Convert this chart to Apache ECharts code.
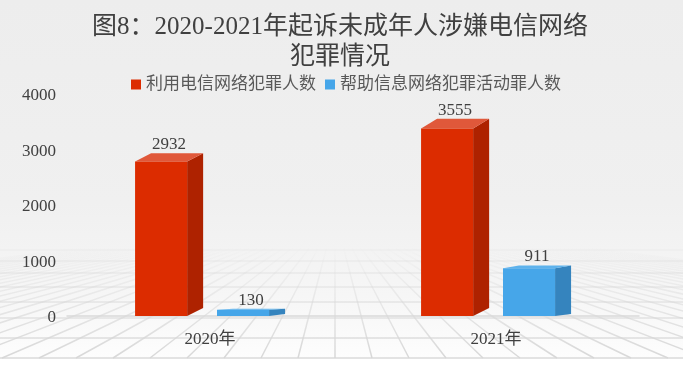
<!DOCTYPE html>
<html><head><meta charset="utf-8">
<script src="https://cdn.jsdelivr.net/npm/echarts@6/dist/echarts.min.js"></script>
<style>html,body{margin:0;padding:0;background:#fff}#c{width:683px;height:370px}</style>
</head><body><div id="c"></div>
<script>
const categories = ['2020年', '2021年'];
const seriesNames = ['利用电信网络犯罪人数', '帮助信息网络犯罪活动罪人数'];
const telecomValues = [2932, 3555];
const helpValues = [130, 911];
const yTicks = [0, 1000, 2000, 3000, 4000];

const FONT = "'Liberation Serif', 'Noto Sans CJK SC', serif";
const palettes = [
  { front: '#DC2C00', side: '#AE2200', top: '#E0583A' },
  { front: '#46A6E9', side: '#3584BE', top: '#5DB2EC' }
];
const offsets = [-0.262, 0.0245];
const bottomRise = [8, 2];

function makeRender(si) {
  return function (params, api) {
    const ci = api.value(0), v = api.value(1);
    const band = api.size([1, 0])[0];
    const base = api.coord([ci, 0]);
    const top = api.coord([ci, v]);
    const w = band * 0.182, dx = band * 0.056;
    const dy = 0.5 + v * 0.00265;
    const x0 = base[0] + band * offsets[si];
    const x1 = x0 + w;
    const yb = base[1], yt = top[1];
    const br = Math.min(bottomRise[si], yb - yt - 1);
    const p = palettes[si];
    return {
      type: 'group',
      children: [
        { type: 'polygon', shape: { points: [[x1, yt + dy], [x1 + dx, yt], [x1 + dx, yb - br], [x1, yb]] }, style: { fill: p.side } },
        { type: 'polygon', shape: { points: [[x0, yt + dy], [x0 + dx, yt], [x1 + dx, yt], [x1, yt + dy]] }, style: { fill: p.top } },
        { type: 'rect', shape: { x: x0, y: yt + dy, width: w, height: yb - yt - dy }, style: { fill: p.front } },
        { type: 'text', style: { text: String(v), x: (x0 + x1 + dx) / 2, y: yt, align: 'center', verticalAlign: 'bottom', fill: '#404040', font: '17px ' + FONT } }
      ]
    };
  };
}

// decorative perspective floor
const floor = [];
floor.push({ type: 'rect', shape: { x: 0, y: 358, width: 683, height: 12 }, style: { fill: '#ffffff' }, z: -10 });
const hLines = [250, 261, 273, 287, 302, 318, 338, 358];
hLines.forEach((y, i) => {
  floor.push({ type: 'line', shape: { x1: 0, y1: y, x2: 683, y2: y }, style: { stroke: '#dadada', lineWidth: 1.5, opacity: 0.2 + 0.8 * i / (hLines.length - 1) }, z: -5 });
});
const vx = 335, vy = 215;
for (let k = -30; k <= 30; k++) {
  const xb = vx + k * 37;
  const t = (248 - 358) / (vy - 358);
  const xt = xb + (vx - xb) * t;
  floor.push({ type: 'line', shape: { x1: xb, y1: 358, x2: xt, y2: 248 }, style: { stroke: new echarts.graphic.LinearGradient(0, 0, 0, 1, [{ offset: 0, color: 'rgba(215,215,215,0)' }, { offset: 1, color: 'rgba(215,215,215,1)' }]), lineWidth: 1.5 }, z: -5 });
}

const chart = echarts.init(document.getElementById('c'));
chart.setOption({
  animation: false,
  backgroundColor: new echarts.graphic.LinearGradient(0, 0, 0, 1, [
    { offset: 0, color: '#ededed' }, { offset: 0.55, color: '#f0f0f0' }, { offset: 0.8, color: '#f6f6f6' }, { offset: 0.97, color: '#fdfdfd' }, { offset: 1, color: '#ffffff' }
  ]),
  title: {
    text: '图8：2020-2021年起诉未成年人涉嫌电信网络\n犯罪情况',
    left: 335, top: 7, textAlign: 'center',
    textStyle: { fontFamily: FONT, fontSize: 25, fontWeight: 'normal', color: '#404040', lineHeight: 30 }
  },
  legend: {
    data: seriesNames, top: 71, left: 126, icon: 'rect', itemWidth: 10, itemHeight: 10, itemGap: 9,
    textStyle: { fontFamily: FONT, fontSize: 17, color: '#595959' }
  },
  graphic: floor,
  grid: { left: 67, right: 44, top: 94, bottom: 54 },
  xAxis: {
    type: 'category', data: categories,
    axisLine: { show: true, lineStyle: { color: '#d9d9d9', width: 1.5 } },
    axisTick: { show: false },
    axisLabel: { fontFamily: FONT, fontSize: 17, color: '#404040', margin: 15 }
  },
  yAxis: {
    type: 'value', min: yTicks[0], max: yTicks[yTicks.length - 1], interval: 1000,
    axisLine: { show: false }, axisTick: { show: false }, splitLine: { show: false },
    axisLabel: {
      margin: 11, formatter: v => '{a|' + v + '}',
      rich: { a: { fontFamily: FONT, fontSize: 17, color: '#404040', padding: [4, 0, 0, 0] } }
    }
  },
  series: [
    { name: seriesNames[0], type: 'custom', renderItem: makeRender(0), itemStyle: { color: palettes[0].front }, data: telecomValues.map((v, i) => [i, v]), encode: { x: 0, y: 1 } },
    { name: seriesNames[1], type: 'custom', renderItem: makeRender(1), itemStyle: { color: palettes[1].front }, data: helpValues.map((v, i) => [i, v]), encode: { x: 0, y: 1 } }
  ]
});
</script></body></html>
